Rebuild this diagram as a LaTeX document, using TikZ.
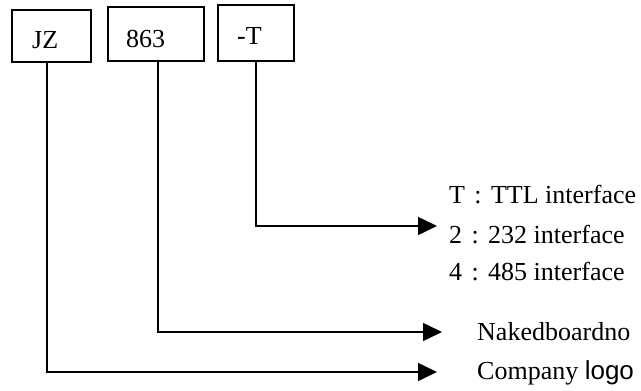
\documentclass[tikz,border=0pt]{standalone}
\usepackage{fontspec}
\setmainfont{Liberation Serif}
\newfontfamily\sansf{Liberation Sans}
\usetikzlibrary{arrows.meta}
\newcommand{\wcolon}{\makebox[26pt][c]{:}}
\begin{document}
\begin{tikzpicture}[x=1pt,y=-1pt,
  lw/.style={line width=1.5pt},
  box/.style={draw,lw,rectangle,inner sep=0pt},
  txt/.style={anchor=base west,inner sep=0pt,font=\fontsize{26}{30}\selectfont},
  arr/.style={lw,-{Triangle[length=19pt,width=18pt]}}]
\useasboundingbox (0,0) rectangle (641,391);
% boxes
\node[box,minimum width=79pt,minimum height=52pt] (jzbox) at (51.5,36) {};
\node[box,minimum width=96pt,minimum height=54pt] (nbox) at (156,34) {};
\node[box,minimum width=76pt,minimum height=56pt] (tbox) at (256,33) {};
\node[txt] (jzt) at (32,48) {JZ};
\node[txt] (nt) at (126,47) {863};
\node[txt] (tt) at (237,44) {-T};
% labels
\node[txt] (l1) at (449,203) {T\wcolon TTL interface};
\node[txt] (l2) at (449,243) {2\wcolon 232 interface};
\node[txt] (l3) at (449,280) {4\wcolon 485 interface};
\node[txt] (l4) at (477,340) {Nakedboardno};
\node[txt] (l5) at (477,379) {Company {\sansf logo}};
% connector coordinates
\coordinate (tx) at (256,0);
\coordinate (nx) at (158,0);
\coordinate (jx) at (47,0);
\coordinate (ttip) at (437,226);
\coordinate (ntip) at (442,332);
\coordinate (jtip) at (437,372);
\draw[arr] (tbox.south -| tx) |- (ttip);
\draw[arr] (nbox.south -| nx) |- (ntip);
\draw[arr] (jzbox.south -| jx) |- (jtip);
\end{tikzpicture}
\end{document}
